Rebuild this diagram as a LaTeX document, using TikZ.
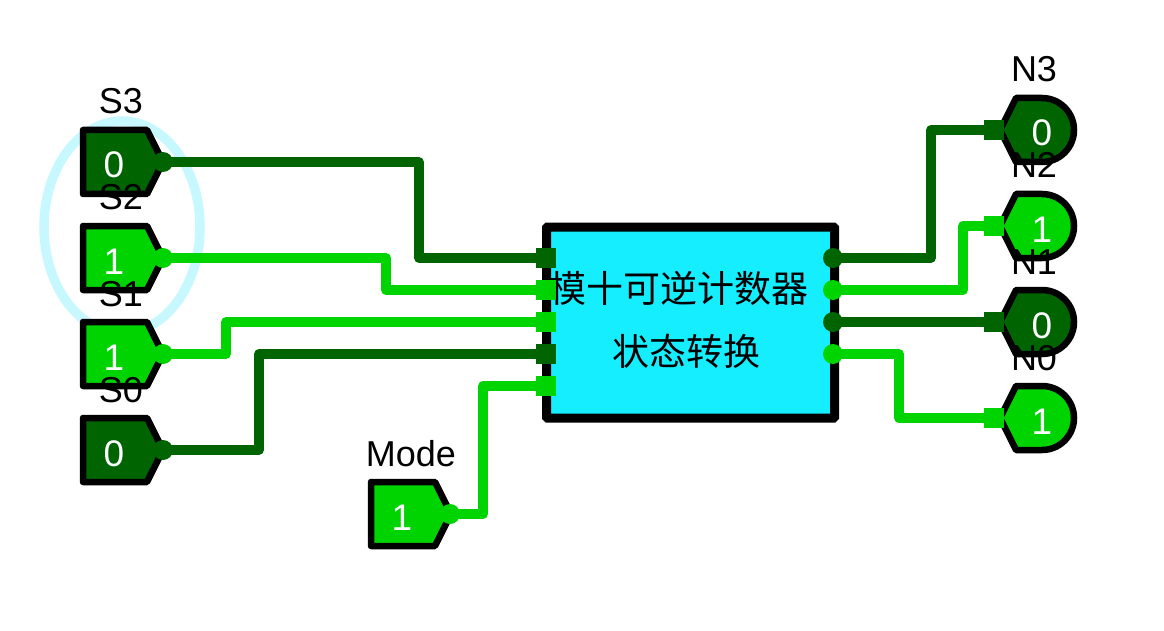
\documentclass[tikz,border=0pt]{standalone}
\usepackage{fontspec}
\setmainfont{Liberation Sans}
\newfontfamily\cjkfont{Noto Sans CJK SC}
\definecolor{lowc}{RGB}{0,100,0}
\definecolor{highc}{RGB}{0,212,0}
\definecolor{blockc}{RGB}{20,238,255}
\definecolor{ringc}{RGB}{200,248,255}
\tikzset{
  wire/.style={line width=9.5pt,line join=round,line cap=round},
  pinbody/.style={line width=6.5pt,line join=round},
  outdot/.style={circle,inner sep=0pt,minimum size=20pt,fill=#1},
  inpad/.style={rectangle,inner sep=0pt,minimum size=20pt,fill=#1},
  tagtext/.style={anchor=base,inner sep=0pt,text=black,font=\fontsize{36}{36}\selectfont},
  valtext/.style={anchor=base,inner sep=0pt,text=white,font=\fontsize{37}{37}\selectfont},
  hanzi/.style={inner sep=0pt,text=black,font=\cjkfont\fontsize{37}{37}\selectfont},
}
\newcommand{\inbody}[3]{%
  \draw[pinbody,fill=#3] (#1,#2-32) -- ++(64,0) -- ++(16,32) -- ++(-16,32) -- ++(-64,0) -- cycle;}
\newcommand{\outbody}[2]{%
  \draw[pinbody,fill=#2] (1000,#1) -- (1016,#1-32) -- (1042,#1-32) arc[start angle=-90,end angle=90,radius=32] -- (1016,#1+32) -- cycle;}
\begin{document}
\begin{tikzpicture}[x=1pt,y=-1pt]
\useasboundingbox (0,0) rectangle (1164,631);
% selection ring
\draw[ringc,line width=9.5pt] (122,227) ellipse[x radius=78,y radius=106];
% pin and block bodies
\inbody{83}{162}{lowc}
\inbody{83}{258}{highc}
\inbody{83}{354}{highc}
\inbody{83}{450}{lowc}
\inbody{371}{514}{highc}
\outbody{130}{lowc}
\outbody{226}{highc}
\outbody{322}{lowc}
\outbody{418}{highc}
\node[draw=black,fill=blockc,line width=9pt,rounded corners=1pt,minimum width=288pt,minimum height=191pt,inner sep=0pt] (block) at (690.5,322.5) {};
\node[hanzi] (title1) at (679,288) {模十可逆计数器};
\node[hanzi] (title2) at (686,351) {状态转换};
% terminals
\node[outdot=lowc] (s3) at (163,162) {};
\node[outdot=highc] (s2) at (163,258) {};
\node[outdot=highc] (s1) at (163,354) {};
\node[outdot=lowc] (s0) at (163,450) {};
\node[outdot=highc] (mode) at (450,514) {};
\node[inpad=lowc] (a3) at (546,258) {};
\node[inpad=highc] (a2) at (546,290) {};
\node[inpad=highc] (a1) at (546,322) {};
\node[inpad=lowc] (a0) at (546,354) {};
\node[inpad=highc] (am) at (546,386) {};
\node[outdot=lowc] (q3) at (833,258) {};
\node[outdot=highc] (q2) at (833,290) {};
\node[outdot=lowc] (q1) at (833,322) {};
\node[outdot=highc] (q0) at (833,354) {};
\node[inpad=lowc] (n3) at (994,130) {};
\node[inpad=highc] (n2) at (994,226) {};
\node[inpad=lowc] (n1) at (994,322) {};
\node[inpad=highc] (n0) at (994,418) {};
% wires
\draw[wire,lowc] (s3.center) -| (419,258) -- (a3.center);
\draw[wire,highc] (s2.center) -| (386,290) -- (a2.center);
\draw[wire,highc] (s1.center) -| (226,322) -- (a1.center);
\draw[wire,lowc] (s0.center) -| (259,354) -- (a0.center);
\draw[wire,highc] (mode.center) -| (483,386) -- (am.center);
\draw[wire,lowc] (q3.center) -| (931,130) -- (n3.center);
\draw[wire,highc] (q2.center) -| (963,226) -- (n2.center);
\draw[wire,lowc] (q1.center) -- (n1.center);
\draw[wire,highc] (q0.center) -| (899,418) -- (n0.center);
% labels
\node[tagtext] (ls3) at (121,114) {S3};
\node[tagtext] (ls2) at (121,210) {S2};
\node[tagtext] (ls1) at (121,306) {S1};
\node[tagtext] (ls0) at (121,402) {S0};
\node[tagtext] (lm) at (411,466) {Mode};
\node[tagtext] (ln3) at (1034,82) {N3};
\node[tagtext] (ln2) at (1034,178) {N2};
\node[tagtext] (ln1) at (1034,274) {N1};
\node[tagtext] (ln0) at (1034,370) {N0};
\node[valtext] (v3) at (114,178) {0};
\node[valtext] (v2) at (114,274) {1};
\node[valtext] (v1) at (114,370) {1};
\node[valtext] (v0) at (114,466) {0};
\node[valtext] (vm) at (402,530) {1};
\node[valtext] (w3) at (1042,146) {0};
\node[valtext] (w2) at (1042,242) {1};
\node[valtext] (w1) at (1042,338) {0};
\node[valtext] (w0) at (1042,434) {1};
\end{tikzpicture}
\end{document}
